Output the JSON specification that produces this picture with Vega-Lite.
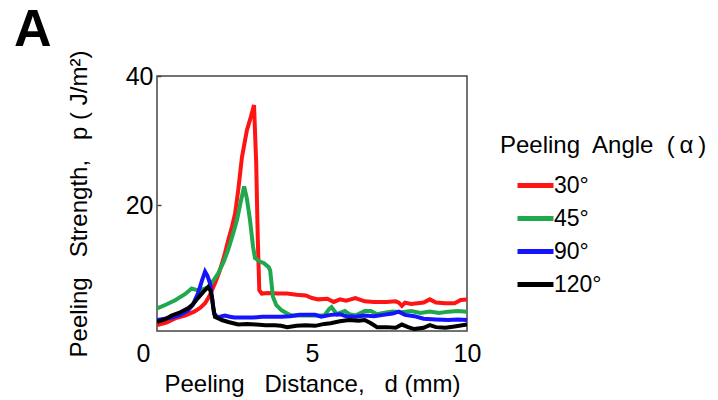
{
  "$schema": "https://vega.github.io/schema/vega-lite/v6.json",
  "width": 310,
  "height": 255,
  "autosize": {"type": "none"},
  "padding": {"left": 157, "top": 76, "right": 251, "bottom": 69},
  "background": "white",
  "title": {"text": "A", "anchor": "start", "frame": "group", "fontSize": 52, "fontWeight": "bold", "font": "Liberation Sans", "color": "black", "baseline": "alphabetic", "dx": -143, "dy": 64, "offset": 16},
  "config": {
    "font": "Liberation Sans",
    "view": {"stroke": "#444", "strokeWidth": 1.5},
    "axis": {"grid": false, "domain": false, "labelColor": "black", "titleColor": "black", "labelFontSize": 25, "titleFontSize": 23, "titleFontWeight": "normal", "labelFont": "Liberation Sans", "titleFont": "Liberation Sans"}
  },
  "data": {"values": [
    {"d":0,"p":1.4,"a":"30°"},{"d":0.3,"p":1.8,"a":"30°"},{"d":0.6,"p":2.5,"a":"30°"},{"d":0.9,"p":2.9,"a":"30°"},{"d":1.2,"p":3.5,"a":"30°"},{"d":1.4,"p":4.1,"a":"30°"},{"d":1.55,"p":4.8,"a":"30°"},{"d":1.7,"p":6.0,"a":"30°"},{"d":1.87,"p":7.9,"a":"30°"},{"d":2.0,"p":9.5,"a":"30°"},{"d":2.1,"p":11,"a":"30°"},{"d":2.2,"p":12.7,"a":"30°"},{"d":2.3,"p":14.6,"a":"30°"},{"d":2.42,"p":16.7,"a":"30°"},{"d":2.52,"p":18.7,"a":"30°"},{"d":2.62,"p":22.3,"a":"30°"},{"d":2.74,"p":27.4,"a":"30°"},{"d":2.9,"p":31.6,"a":"30°"},{"d":3.0,"p":33.2,"a":"30°"},{"d":3.13,"p":35.5,"a":"30°"},{"d":3.2,"p":26.5,"a":"30°"},{"d":3.25,"p":15,"a":"30°"},{"d":3.3,"p":6.8,"a":"30°"},{"d":3.38,"p":6.3,"a":"30°"},{"d":3.6,"p":6.4,"a":"30°"},{"d":3.9,"p":6.3,"a":"30°"},{"d":4.2,"p":6.3,"a":"30°"},{"d":4.5,"p":6.1,"a":"30°"},{"d":4.8,"p":6.0,"a":"30°"},{"d":5.0,"p":5.6,"a":"30°"},{"d":5.2,"p":5.4,"a":"30°"},{"d":5.5,"p":5.5,"a":"30°"},{"d":5.7,"p":5.0,"a":"30°"},{"d":5.9,"p":5.4,"a":"30°"},{"d":6.1,"p":5.2,"a":"30°"},{"d":6.4,"p":5.6,"a":"30°"},{"d":6.7,"p":5.1,"a":"30°"},{"d":7.0,"p":5.0,"a":"30°"},{"d":7.4,"p":5.0,"a":"30°"},{"d":7.7,"p":5.1,"a":"30°"},{"d":7.8,"p":4.9,"a":"30°"},{"d":7.9,"p":4.4,"a":"30°"},{"d":8.0,"p":4.9,"a":"30°"},{"d":8.2,"p":4.7,"a":"30°"},{"d":8.4,"p":4.8,"a":"30°"},{"d":8.6,"p":4.9,"a":"30°"},{"d":8.8,"p":5.4,"a":"30°"},{"d":9.0,"p":4.9,"a":"30°"},{"d":9.3,"p":4.8,"a":"30°"},{"d":9.6,"p":4.8,"a":"30°"},{"d":9.8,"p":5.3,"a":"30°"},{"d":10.0,"p":5.4,"a":"30°"},
    {"d":0,"p":4.0,"a":"45°"},{"d":0.3,"p":4.6,"a":"45°"},{"d":0.6,"p":5.3,"a":"45°"},{"d":0.9,"p":6.2,"a":"45°"},{"d":1.12,"p":7.1,"a":"45°"},{"d":1.32,"p":6.8,"a":"45°"},{"d":1.5,"p":7.0,"a":"45°"},{"d":1.65,"p":7.3,"a":"45°"},{"d":1.8,"p":8.2,"a":"45°"},{"d":1.97,"p":9.4,"a":"45°"},{"d":2.15,"p":11.2,"a":"45°"},{"d":2.29,"p":13,"a":"45°"},{"d":2.45,"p":15.5,"a":"45°"},{"d":2.58,"p":17.7,"a":"45°"},{"d":2.7,"p":20.5,"a":"45°"},{"d":2.81,"p":22.9,"a":"45°"},{"d":2.9,"p":21,"a":"45°"},{"d":3.0,"p":17.7,"a":"45°"},{"d":3.1,"p":13.5,"a":"45°"},{"d":3.16,"p":11.8,"a":"45°"},{"d":3.3,"p":11.3,"a":"45°"},{"d":3.45,"p":11.0,"a":"45°"},{"d":3.6,"p":10.4,"a":"45°"},{"d":3.65,"p":9.9,"a":"45°"},{"d":3.74,"p":5.8,"a":"45°"},{"d":3.85,"p":4.5,"a":"45°"},{"d":4.02,"p":3.7,"a":"45°"},{"d":4.2,"p":3.2,"a":"45°"},{"d":4.35,"p":2.9,"a":"45°"},{"d":4.7,"p":2.9,"a":"45°"},{"d":5.0,"p":2.9,"a":"45°"},{"d":5.4,"p":2.9,"a":"45°"},{"d":5.55,"p":3.9,"a":"45°"},{"d":5.63,"p":4.2,"a":"45°"},{"d":5.8,"p":3.1,"a":"45°"},{"d":6.06,"p":3.6,"a":"45°"},{"d":6.2,"p":3.1,"a":"45°"},{"d":6.4,"p":2.9,"a":"45°"},{"d":6.7,"p":3.6,"a":"45°"},{"d":6.9,"p":3.6,"a":"45°"},{"d":7.1,"p":3.1,"a":"45°"},{"d":7.3,"p":3.3,"a":"45°"},{"d":7.6,"p":3.5,"a":"45°"},{"d":7.9,"p":3.4,"a":"45°"},{"d":8.2,"p":3.6,"a":"45°"},{"d":8.5,"p":3.3,"a":"45°"},{"d":8.8,"p":3.5,"a":"45°"},{"d":9.1,"p":3.3,"a":"45°"},{"d":9.4,"p":3.5,"a":"45°"},{"d":9.7,"p":3.6,"a":"45°"},{"d":10.0,"p":3.5,"a":"45°"},
    {"d":0,"p":2.2,"a":"90°"},{"d":0.25,"p":2.4,"a":"90°"},{"d":0.47,"p":2.6,"a":"90°"},{"d":0.75,"p":3.0,"a":"90°"},{"d":1.0,"p":3.7,"a":"90°"},{"d":1.15,"p":4.5,"a":"90°"},{"d":1.32,"p":6.3,"a":"90°"},{"d":1.45,"p":8.3,"a":"90°"},{"d":1.55,"p":9.7,"a":"90°"},{"d":1.63,"p":9.0,"a":"90°"},{"d":1.71,"p":7.9,"a":"90°"},{"d":1.78,"p":5.5,"a":"90°"},{"d":1.84,"p":3.2,"a":"90°"},{"d":1.97,"p":2.6,"a":"90°"},{"d":2.1,"p":2.8,"a":"90°"},{"d":2.19,"p":2.9,"a":"90°"},{"d":2.35,"p":2.7,"a":"90°"},{"d":2.5,"p":2.6,"a":"90°"},{"d":2.8,"p":2.6,"a":"90°"},{"d":3.1,"p":2.6,"a":"90°"},{"d":3.4,"p":2.7,"a":"90°"},{"d":3.7,"p":2.7,"a":"90°"},{"d":4.0,"p":2.7,"a":"90°"},{"d":4.3,"p":2.8,"a":"90°"},{"d":4.6,"p":3.0,"a":"90°"},{"d":4.9,"p":3.0,"a":"90°"},{"d":5.1,"p":3.0,"a":"90°"},{"d":5.3,"p":2.7,"a":"90°"},{"d":5.6,"p":3.0,"a":"90°"},{"d":5.9,"p":3.1,"a":"90°"},{"d":6.1,"p":2.8,"a":"90°"},{"d":6.4,"p":2.7,"a":"90°"},{"d":6.7,"p":2.9,"a":"90°"},{"d":7.0,"p":2.8,"a":"90°"},{"d":7.3,"p":3.0,"a":"90°"},{"d":7.6,"p":3.2,"a":"90°"},{"d":7.8,"p":3.5,"a":"90°"},{"d":8.0,"p":3.0,"a":"90°"},{"d":8.3,"p":2.8,"a":"90°"},{"d":8.6,"p":2.4,"a":"90°"},{"d":9.0,"p":2.3,"a":"90°"},{"d":9.4,"p":2.2,"a":"90°"},{"d":9.7,"p":2.3,"a":"90°"},{"d":10.0,"p":2.2,"a":"90°"},
    {"d":0,"p":1.9,"a":"120°"},{"d":0.25,"p":2.3,"a":"120°"},{"d":0.47,"p":2.9,"a":"120°"},{"d":0.75,"p":3.4,"a":"120°"},{"d":1.0,"p":4.0,"a":"120°"},{"d":1.15,"p":4.6,"a":"120°"},{"d":1.32,"p":5.6,"a":"120°"},{"d":1.5,"p":6.6,"a":"120°"},{"d":1.65,"p":7.3,"a":"120°"},{"d":1.72,"p":6.8,"a":"120°"},{"d":1.77,"p":5.8,"a":"120°"},{"d":1.82,"p":4.0,"a":"120°"},{"d":1.87,"p":2.7,"a":"120°"},{"d":2.0,"p":2.4,"a":"120°"},{"d":2.09,"p":2.2,"a":"120°"},{"d":2.3,"p":1.9,"a":"120°"},{"d":2.62,"p":1.5,"a":"120°"},{"d":2.9,"p":1.6,"a":"120°"},{"d":3.2,"p":1.5,"a":"120°"},{"d":3.5,"p":1.4,"a":"120°"},{"d":3.8,"p":1.4,"a":"120°"},{"d":4.0,"p":1.3,"a":"120°"},{"d":4.2,"p":1.1,"a":"120°"},{"d":4.5,"p":1.3,"a":"120°"},{"d":4.8,"p":1.4,"a":"120°"},{"d":5.1,"p":1.3,"a":"120°"},{"d":5.4,"p":1.6,"a":"120°"},{"d":5.6,"p":1.7,"a":"120°"},{"d":5.9,"p":2.0,"a":"120°"},{"d":6.2,"p":2.2,"a":"120°"},{"d":6.5,"p":2.1,"a":"120°"},{"d":6.7,"p":2.2,"a":"120°"},{"d":6.9,"p":1.7,"a":"120°"},{"d":7.1,"p":1.1,"a":"120°"},{"d":7.4,"p":1.1,"a":"120°"},{"d":7.7,"p":1.0,"a":"120°"},{"d":7.9,"p":1.5,"a":"120°"},{"d":8.1,"p":1.1,"a":"120°"},{"d":8.3,"p":0.8,"a":"120°"},{"d":8.6,"p":1.0,"a":"120°"},{"d":8.8,"p":1.4,"a":"120°"},{"d":9.0,"p":1.1,"a":"120°"},{"d":9.3,"p":1.0,"a":"120°"},{"d":9.6,"p":1.2,"a":"120°"},{"d":10.0,"p":1.5,"a":"120°"}
  ]},
  "mark": {"type": "line", "strokeWidth": 4, "clip": true},
  "encoding": {
    "x": {"field": "d", "type": "quantitative", "scale": {"domain": [0, 10], "nice": false},
      "axis": {"title": "Peeling\u00a0\u00a0 Distance,\u00a0\u00a0 d\u00a0(mm)", "values": [0, 5, 10], "ticks": false, "labelPadding": 10, "labelFlush": false, "labelOverlap": false, "titlePadding": 6, "titleFontSize": 24,
        "labelOffset": {"condition": {"test": "datum.value === 0", "value": -14}, "value": 0}}},
    "y": {"field": "p", "type": "quantitative", "scale": {"domain": [0.5, 40], "nice": false, "zero": false},
      "axis": {"title": "Peeling\u00a0\u00a0 Strength,\u00a0\u00a0 p\u00a0(\u00a0J/m²)", "values": [20, 40], "tickSize": -4, "tickColor": "#444", "tickWidth": 1.5, "labelPadding": 8, "labelFlush": false, "labelOverlap": false, "titlePadding": 34, "titleFontSize": 24}},
    "color": {"field": "a", "type": "nominal", "sort": ["30°", "45°", "90°", "120°"],
      "scale": {"domain": ["30°", "45°", "90°", "120°"], "range": ["#ff1414", "#1fa84e", "#1414ff", "#000000"]},
      "legend": {"title": "Peeling\u00a0 Angle\u00a0 (\u2009α\u2009)", "orient": "none", "legendX": 343, "legendY": 58, "titleFontSize": 24, "titleFontWeight": "normal", "titleColor": "black", "titlePadding": 10, "titleLimit": 400,
        "labelFontSize": 23, "labelColor": "black", "labelOffset": 19, "symbolType": "M0,0H2.4", "symbolSize": 900, "symbolStrokeWidth": 5, "rowPadding": 3, "padding": 0}}
  }
}
